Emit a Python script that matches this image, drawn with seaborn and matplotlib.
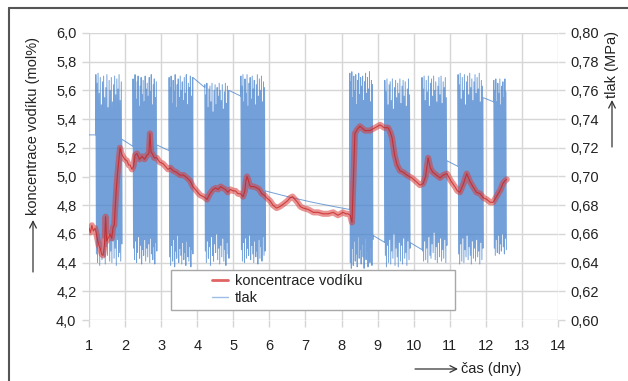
import numpy as np
import pandas as pd
import matplotlib
matplotlib.use("Agg")
import matplotlib.pyplot as plt
import seaborn as sns
from matplotlib.lines import Line2D
from matplotlib.patches import Rectangle, FancyArrowPatch

# ---------------- data ----------------
x_ticks = list(range(1, 15))
x_labels = [str(v) for v in x_ticks]
conc_ticks = [4.0, 4.2, 4.4, 4.6, 4.8, 5.0, 5.2, 5.4, 5.6, 5.8, 6.0]
conc_labels = ["4,0", "4,2", "4,4", "4,6", "4,8", "5,0", "5,2", "5,4", "5,6", "5,8", "6,0"]
p_ticks = [0.60, 0.62, 0.64, 0.66, 0.68, 0.70, 0.72, 0.74, 0.76, 0.78, 0.80]
p_labels = ["0,60", "0,62", "0,64", "0,66", "0,68", "0,70", "0,72", "0,74", "0,76", "0,78", "0,80"]

# hydrogen concentration (mol%) vs time (days)
conc_t = [1.00, 1.04, 1.08, 1.12, 1.17, 1.22, 1.27, 1.31, 1.35, 1.39,
          1.43, 1.46, 1.49, 1.53, 1.58, 1.63, 1.67, 1.70, 1.73, 1.76,
          1.79, 1.82, 1.86, 1.90, 1.94, 1.99, 2.05, 2.10, 2.14, 2.19,
          2.23, 2.28, 2.33, 2.40, 2.47, 2.54, 2.61, 2.66, 2.69, 2.72,
          2.75, 2.81, 2.88, 2.96, 3.05, 3.12, 3.19, 3.26, 3.33, 3.42,
          3.52, 3.62, 3.72, 3.80, 3.88, 3.98, 4.08, 4.17, 4.27, 4.35,
          4.44, 4.51, 4.58, 4.65, 4.71, 4.78, 4.85, 4.92, 4.99, 5.06,
          5.13, 5.20, 5.27, 5.32, 5.35, 5.38, 5.41, 5.45, 5.49, 5.57,
          5.66, 5.72, 5.79, 5.86, 5.93, 6.02, 6.10, 6.20, 6.29, 6.40,
          6.50, 6.57, 6.64, 6.71, 6.78, 6.86, 6.94, 7.08, 7.22, 7.35,
          7.49, 7.63, 7.77, 7.90, 8.04, 8.12, 8.18, 8.24, 8.29, 8.33,
          8.37, 8.44, 8.51, 8.65, 8.79, 8.93, 9.07, 9.18, 9.29, 9.35,
          9.40, 9.47, 9.54, 9.58, 9.62, 9.71, 9.81, 9.95, 10.09, 10.17,
          10.26, 10.33, 10.40, 10.46, 10.53, 10.63, 10.73, 10.82, 10.92, 11.03,
          11.14, 11.21, 11.28, 11.38, 11.47, 11.55, 11.64, 11.74, 11.84, 11.94,
          12.03, 12.12, 12.20, 12.27, 12.34, 12.41, 12.47, 12.53, 12.58]
conc_v = [4.64, 4.61, 4.66, 4.62, 4.64, 4.58, 4.52, 4.50, 4.46, 4.45,
          4.53, 4.72, 4.55, 4.57, 4.60, 4.57, 4.65, 4.66, 4.80, 4.92,
          5.02, 5.10, 5.20, 5.16, 5.14, 5.12, 5.11, 5.08, 5.08, 5.05,
          5.07, 5.15, 5.16, 5.12, 5.14, 5.12, 5.15, 5.16, 5.30, 5.17,
          5.16, 5.13, 5.13, 5.10, 5.09, 5.07, 5.05, 5.06, 5.04, 5.03,
          5.01, 5.01, 4.99, 4.97, 4.93, 4.90, 4.87, 4.86, 4.84, 4.88,
          4.91, 4.92, 4.91, 4.93, 4.92, 4.91, 4.89, 4.91, 4.90, 4.90,
          4.88, 4.88, 4.86, 4.90, 4.97, 5.00, 4.98, 4.94, 4.93, 4.93,
          4.92, 4.91, 4.88, 4.87, 4.85, 4.83, 4.80, 4.78, 4.79, 4.81,
          4.83, 4.85, 4.86, 4.84, 4.82, 4.79, 4.78, 4.77, 4.75, 4.75,
          4.74, 4.74, 4.75, 4.73, 4.75, 4.74, 4.74, 4.73, 4.68, 5.00,
          5.30, 5.33, 5.35, 5.32, 5.32, 5.34, 5.36, 5.34, 5.34, 5.31,
          5.27, 5.15, 5.08, 5.06, 5.04, 5.03, 5.01, 4.99, 4.96, 4.94,
          4.95, 5.00, 5.13, 5.06, 5.03, 5.01, 4.99, 5.01, 5.02, 4.97,
          4.93, 4.90, 4.89, 4.95, 5.02, 4.97, 4.93, 4.89, 4.88, 4.85,
          4.84, 4.82, 4.82, 4.85, 4.88, 4.91, 4.95, 4.97, 4.98]

# pressure (MPa): compressor cycling periods (start/end day) and their peaks / troughs
burst_start = [1.19, 2.22, 3.22, 4.21, 5.21, 8.23, 9.20, 10.23, 11.23, 12.22]
burst_end = [1.91, 2.88, 3.88, 4.88, 5.88, 8.87, 9.90, 10.92, 11.92, 12.57]

b1_hi = [0.771, 0.765, 0.772, 0.758, 0.769, 0.750, 0.766, 0.770, 0.755, 0.762, 0.771, 0.748,
         0.767, 0.760, 0.769, 0.752, 0.764, 0.770, 0.757, 0.768, 0.761, 0.771, 0.753, 0.766]
b1_lo = [0.646, 0.640, 0.653, 0.638, 0.649, 0.642, 0.657, 0.644, 0.639, 0.651, 0.645, 0.660,
         0.641, 0.648, 0.640, 0.655, 0.643, 0.650, 0.638, 0.656, 0.644, 0.647, 0.641, 0.653]
b2_hi = [0.768, 0.760, 0.771, 0.754, 0.766, 0.770, 0.749, 0.763, 0.769, 0.757, 0.767, 0.752,
         0.770, 0.761, 0.765, 0.756, 0.769, 0.759, 0.771, 0.750, 0.764, 0.768, 0.755, 0.766]
b2_lo = [0.650, 0.642, 0.655, 0.640, 0.647, 0.658, 0.643, 0.652, 0.639, 0.649, 0.645, 0.656,
         0.641, 0.650, 0.644, 0.653, 0.640, 0.657, 0.646, 0.642, 0.651, 0.639, 0.654, 0.648]
b3_hi = [0.769, 0.762, 0.770, 0.751, 0.767, 0.759, 0.771, 0.748, 0.764, 0.768, 0.755, 0.770,
         0.760, 0.766, 0.753, 0.769, 0.758, 0.771, 0.750, 0.765, 0.762, 0.770, 0.756, 0.769]
b3_lo = [0.644, 0.638, 0.652, 0.641, 0.656, 0.637, 0.648, 0.643, 0.659, 0.640, 0.650, 0.645,
         0.639, 0.654, 0.642, 0.647, 0.638, 0.655, 0.644, 0.641, 0.651, 0.637, 0.649, 0.646]
b4_hi = [0.764, 0.757, 0.765, 0.748, 0.761, 0.763, 0.752, 0.765, 0.745, 0.760, 0.764, 0.750,
         0.762, 0.756, 0.765, 0.760, 0.753, 0.764, 0.747, 0.759, 0.765, 0.751, 0.763, 0.760]
b4_lo = [0.648, 0.640, 0.655, 0.643, 0.651, 0.638, 0.658, 0.645, 0.641, 0.653, 0.647, 0.660,
         0.642, 0.650, 0.639, 0.652, 0.644, 0.657, 0.641, 0.649, 0.638, 0.654, 0.646, 0.643]
b5_hi = [0.770, 0.763, 0.771, 0.752, 0.768, 0.758, 0.771, 0.749, 0.765, 0.769, 0.754, 0.770,
         0.761, 0.767, 0.750, 0.764, 0.771, 0.756, 0.768, 0.760, 0.770, 0.752, 0.766, 0.762]
b5_lo = [0.649, 0.641, 0.654, 0.640, 0.657, 0.643, 0.650, 0.645, 0.659, 0.642, 0.652, 0.646,
         0.640, 0.655, 0.644, 0.648, 0.639, 0.656, 0.643, 0.651, 0.641, 0.658, 0.645, 0.648]
b6_hi = [0.772, 0.766, 0.773, 0.755, 0.770, 0.760, 0.771, 0.750, 0.767, 0.772, 0.757, 0.769,
         0.763, 0.770, 0.753, 0.766, 0.772, 0.758, 0.769, 0.761, 0.773, 0.752, 0.767, 0.764]
b6_lo = [0.640, 0.636, 0.650, 0.638, 0.655, 0.641, 0.646, 0.637, 0.658, 0.643, 0.649, 0.639,
         0.653, 0.644, 0.636, 0.657, 0.642, 0.648, 0.637, 0.654, 0.640, 0.651, 0.638, 0.656]
b7_hi = [0.767, 0.759, 0.768, 0.750, 0.764, 0.766, 0.753, 0.768, 0.747, 0.762, 0.767, 0.755,
         0.765, 0.758, 0.768, 0.751, 0.763, 0.767, 0.756, 0.766, 0.749, 0.761, 0.768, 0.757]
b7_lo = [0.645, 0.637, 0.652, 0.640, 0.656, 0.639, 0.648, 0.643, 0.660, 0.638, 0.650, 0.644,
         0.637, 0.654, 0.641, 0.652, 0.639, 0.657, 0.643, 0.647, 0.638, 0.655, 0.642, 0.650]
b8_hi = [0.769, 0.761, 0.770, 0.753, 0.767, 0.759, 0.770, 0.749, 0.765, 0.768, 0.756, 0.770,
         0.760, 0.766, 0.752, 0.763, 0.769, 0.757, 0.770, 0.751, 0.766, 0.762, 0.769, 0.755]
b8_lo = [0.648, 0.641, 0.655, 0.642, 0.650, 0.640, 0.658, 0.645, 0.643, 0.653, 0.647, 0.661,
         0.642, 0.651, 0.640, 0.654, 0.644, 0.657, 0.641, 0.649, 0.643, 0.656, 0.640, 0.652]
b9_hi = [0.771, 0.764, 0.772, 0.754, 0.769, 0.760, 0.771, 0.750, 0.766, 0.770, 0.757, 0.772,
         0.762, 0.768, 0.753, 0.766, 0.771, 0.758, 0.769, 0.761, 0.772, 0.752, 0.767, 0.763]
b9_lo = [0.646, 0.639, 0.653, 0.641, 0.657, 0.640, 0.649, 0.644, 0.659, 0.642, 0.651, 0.645,
         0.639, 0.655, 0.643, 0.650, 0.641, 0.656, 0.644, 0.648, 0.639, 0.654, 0.642, 0.650]
b10_hi = [0.767, 0.760, 0.768, 0.752, 0.765, 0.758, 0.768, 0.750, 0.763, 0.766, 0.755, 0.768, 0.759]
b10_lo = [0.650, 0.645, 0.656, 0.647, 0.659, 0.646, 0.653, 0.648, 0.660, 0.651, 0.646, 0.657, 0.649]

# sparse pressure readings between the cycling periods
gap_times = [[1.00, 1.19], [1.91, 2.22], [2.88, 3.22], [3.88, 4.21], [4.88, 5.21],
             [5.88, 6.50, 7.20, 7.80, 8.23], [8.87, 9.20], [9.90, 10.23],
             [10.92, 11.23], [11.92, 12.22]]
gap_pressures = [[0.729, 0.729], [0.726, 0.721], [0.722, 0.718], [0.769, 0.762], [0.760, 0.756],
                 [0.690, 0.686, 0.682, 0.679, 0.677], [0.659, 0.654], [0.654, 0.649],
                 [0.711, 0.707], [0.755, 0.752]]

series_names = ["koncentrace vodíku", "tlak"]

# ---------------- build pressure series ----------------
bursts = [(b1_hi, b1_lo), (b2_hi, b2_lo), (b3_hi, b3_lo), (b4_hi, b4_lo), (b5_hi, b5_lo),
          (b6_hi, b6_lo), (b7_hi, b7_lo), (b8_hi, b8_lo), (b9_hi, b9_lo), (b10_hi, b10_lo)]
p_t, p_v = [], []
for k, (hi, lo) in enumerate(bursts):
    p_t += gap_times[k]
    p_v += gap_pressures[k]
    vals = [v for pair in zip(hi, lo) for v in pair]
    p_t += list(np.linspace(burst_start[k], burst_end[k], len(vals)))
    p_v += vals
press_df = pd.DataFrame({"t": p_t, "p": p_v})
conc_df = pd.DataFrame({"t": conc_t, "c": conc_v})

# ---------------- figure ----------------
sns.set_theme(style="white")
plt.rcParams["font.family"] = ["Liberation Sans", "DejaVu Sans"]
TXT = "#222222"
GRID = "#d6d6d6"

W, H = 628, 381
fig = plt.figure(figsize=(W / 100, H / 100), dpi=100)
fig.patch.set_facecolor("white")
ax = fig.add_axes([89 / W, 1 - 320 / H, 469 / W, 287 / H])
ax2 = ax.twinx()

# pressure on primary axes (drawn below), ticks on the right
sns.lineplot(data=press_df, x="t", y="p", ax=ax, estimator=None, sort=False,
             color="#4481cc", lw=0.7, alpha=0.75, legend=False)
# concentration on twin axes (drawn on top), ticks on the left
sns.lineplot(data=conc_df, x="t", y="c", ax=ax2, estimator=None, sort=False,
             color="#d83a3a", lw=4.4, alpha=0.55, legend=False)
sns.lineplot(data=conc_df, x="t", y="c", ax=ax2, estimator=None, sort=False,
             color="#c92020", lw=0.8, alpha=0.75, legend=False)

ax.set_xlim(1, 14)
ax.set_ylim(0.60, 0.80)
ax2.set_ylim(4.0, 6.0)
ax.set_xticks(x_ticks)
ax.set_xticklabels(x_labels)
ax.set_yticks(p_ticks)
ax.set_yticklabels(p_labels)
ax2.set_yticks(conc_ticks)
ax2.set_yticklabels(conc_labels)
ax.yaxis.tick_right()
ax2.yaxis.tick_left()
ax.set_xlabel("")
ax.set_ylabel("")
ax2.set_ylabel("")

ax.grid(True, color=GRID, lw=1.0)
ax.set_axisbelow(True)
for a in (ax, ax2):
    for s in a.spines.values():
        s.set_visible(False)
ax.tick_params(axis="x", bottom=True, length=5, width=1, color=GRID, pad=9,
               labelsize=10.5, labelcolor=TXT)
ax.tick_params(axis="y", right=True, left=False, labelright=True, labelleft=False,
               length=5, width=1, color=GRID, pad=4, labelsize=10.5, labelcolor=TXT)
ax2.tick_params(axis="y", left=True, right=False, labelleft=True, labelright=False,
                length=5, width=1, color=GRID, pad=4, labelsize=10.5, labelcolor=TXT)

# legend box + legend
ax2.add_patch(Rectangle((0.175, 0.035), 0.605, 0.139, transform=ax2.transAxes,
                        facecolor="white", edgecolor="#a8a8a8", lw=1.0, zorder=4))
handles = [Line2D([0], [0], color="#e06464", lw=2.0),
           Line2D([0], [0], color="#9dbde6", lw=1.0)]
leg = ax2.legend(handles, series_names, loc="center left", bbox_to_anchor=(0.262, 0.106),
                 frameon=False, fontsize=10.5, handlelength=1.1, handletextpad=0.5,
                 labelspacing=0.2, borderpad=0, borderaxespad=0)
leg.set_zorder(5)
for t in leg.get_texts():
    t.set_color(TXT)

# axis titles with arrows
fig.text(33 / W, 1 - 126 / H, "koncentrace vodíku (mol%)", rotation=90,
         ha="center", va="center", fontsize=10.5, color=TXT)
fig.text(612 / W, 1 - 64 / H, "tlak (MPa)", rotation=90,
         ha="center", va="center", fontsize=10.5, color=TXT)
fig.text(461 / W, 1 - 369 / H, "čas (dny)", ha="left", va="center",
         fontsize=10.5, color=TXT)
arrow = dict(arrowstyle="->", lw=0.9, color="#333333", mutation_scale=12,
             shrinkA=0, shrinkB=0)
fig.add_artist(FancyArrowPatch((33 / W, 1 - 272 / H), (33 / W, 1 - 220 / H),
                               transform=fig.transFigure, **arrow))
fig.add_artist(FancyArrowPatch((612 / W, 1 - 147 / H), (612 / W, 1 - 100 / H),
                               transform=fig.transFigure, **arrow))
fig.add_artist(FancyArrowPatch((415 / W, 1 - 369 / H), (458 / W, 1 - 369 / H),
                               transform=fig.transFigure, **arrow))

# outer frame (top and left edges)
fig.add_artist(Line2D([9 / W, 1], [1 - 8 / H, 1 - 8 / H], transform=fig.transFigure,
                      color="#555555", lw=1.5))
fig.add_artist(Line2D([9 / W, 9 / W], [0, 1 - 8 / H], transform=fig.transFigure,
                      color="#555555", lw=1.5))

fig.savefig("out.png", dpi=100, facecolor="white")
